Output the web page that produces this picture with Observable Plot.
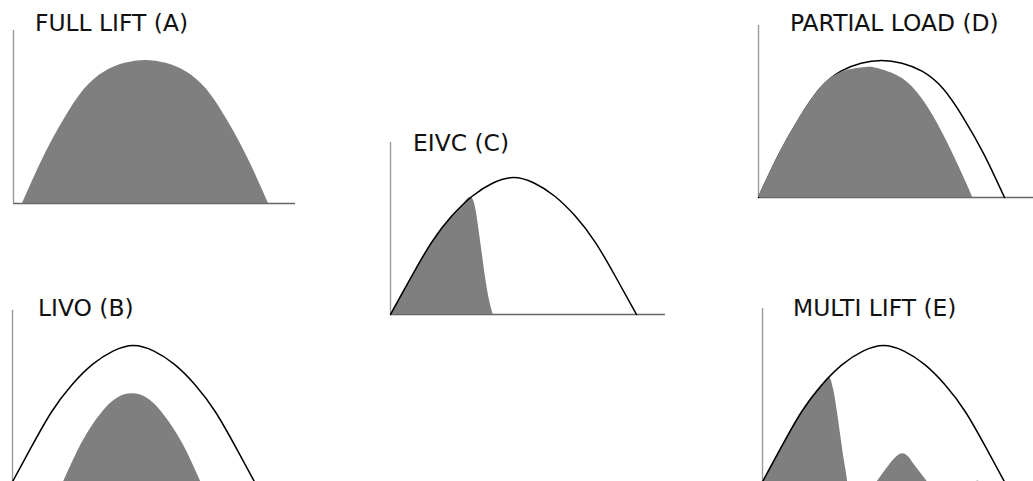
<!DOCTYPE html>
<html><head><meta charset="utf-8">
<script src="https://cdn.jsdelivr.net/npm/d3@7"></script>
<script src="https://cdn.jsdelivr.net/npm/@observablehq/plot@0.6"></script>
<style>
html,body{margin:0;padding:0;background:#fff;}
#stage{position:relative;width:1033px;height:481px;overflow:hidden;background:#fff;}
.panel{position:absolute;}
.title{position:absolute;font-family:"DejaVu Sans",sans-serif;font-size:23.4px;color:#111;white-space:nowrap;line-height:1;}
</style></head><body><div id="stage"></div>
<script>
// ---- data (crank angle in degrees, valve lift in mm) ----
const panelTitles = ["FULL LIFT (A)", "LIVO (B)", "EIVC (C)", "PARTIAL LOAD (D)", "MULTI LIFT (E)"];

const refAngles   = [0, 20, 40, 60, 80, 100, 120, 140, 160, 180, 200, 220, 240];
const fullLiftA   = [0, 3.15, 5.8, 7.95, 9.2, 9.8, 10, 9.8, 9.2, 7.95, 5.8, 3.15, 0];
const referenceLift = [0, 2.7, 5.25, 7.2, 8.65, 9.6, 10, 9.6, 8.65, 7.2, 5.25, 2.7, 0];

const livoAngles  = [50.2, 65.1, 78, 91, 104.1, 118.7, 133.4, 146.3, 159.3, 172.4, 187.2];
const livoLift    = [0, 2.38, 4.05, 5.36, 6.24, 6.55, 6.24, 5.36, 4.05, 2.38, 0];

const eivcAngles  = [0, 20, 40, 60, 70, 78, 81, 84, 86, 89.5, 92.7, 96, 100.2];
const eivcLift    = [0, 2.7, 5.25, 7.2, 7.95, 8.56, 8.32, 7.37, 6.35, 4.45, 2.7, 1.24, 0];

const partialAngles = [0, 20, 40, 60, 80, 100, 110, 120, 140, 160, 180, 200, 209];
const partialLift   = [0, 3.15, 5.8, 7.95, 9.1, 9.45, 9.5, 9.33, 8.7, 7.17, 4.66, 1.54, 0];

const multiAngles1 = [0, 20, 40, 60, 67.3, 71.5, 74.8, 78, 81.3, 84.6, 85.5];
const multiLift1   = [0, 2.7, 5.25, 7.2, 7.7, 6.8, 5.36, 3.7, 2.0, 0.5, 0];
const multiAngles2 = [111, 114, 120, 126.8, 133, 139, 145, 149.4, 154.4, 162.6, 165.5];
const multiLift2   = [0, 0.29, 0.9, 1.55, 2.05, 2.26, 2.0, 1.55, 1.07, 0.29, 0];
const multiAngles3 = [207, 212, 217];
const multiLift3   = [0, 0.32, 0];

// ---- styling / layout ----
const FILL = "#7f7f7f";
const AXIS = "#9a9a9a";
const BASE = "#666";
const KX = 1.025; // px per degree
const layout = [
  {startX: 22,  baseY: 203, ky: 14.3, axisX: 13,  axisTop: 30,  baseEnd: 295,  titleX: 35,  titleBase: 32},
  {startX: 10,  baseY: 485, ky: 14.0, axisX: 12,  axisTop: 310, baseEnd: 300,  titleX: 38,  titleBase: 317},
  {startX: 390, baseY: 314, ky: 13.7, axisX: 390, axisTop: 142, baseEnd: 665,  titleX: 413, titleBase: 152},
  {startX: 758, baseY: 197, ky: 13.7, axisX: 758, axisTop: 25,  baseEnd: 1033, titleX: 790, titleBase: 32},
  {startX: 760, baseY: 485, ky: 14.0, axisX: 762, axisTop: 308, baseEnd: 1033, titleX: 793, titleBase: 317}
];

const outline = (ang, lift) => Plot.line(lift, {x: ang, y: lift, stroke: "#000", strokeWidth: 1.5, curve: "natural"});
const area = (ang, lift, curve = "natural") => Plot.areaY(lift, {x: ang, y: lift, fill: FILL, curve});

const panelMarks = [
  [area(refAngles, fullLiftA)],
  [area(livoAngles, livoLift), outline(refAngles, referenceLift)],
  [area(eivcAngles, eivcLift, "monotone-x"), outline(refAngles, referenceLift)],
  [outline(refAngles, fullLiftA), area(partialAngles, partialLift)],
  [area(multiAngles1, multiLift1, "monotone-x"), area(multiAngles2, multiLift2, "monotone-x"), area(multiAngles3, multiLift3, "monotone-x"), outline(refAngles, referenceLift)]
];

const stage = document.getElementById("stage");
layout.forEach((L, i) => {
  const left = L.axisX - 6, top = L.axisTop - 4;
  const w = Math.min(L.baseEnd + 4, 1040) - left;
  const h = L.baseY + 6 - top;
  const xLo = (left - L.startX) / KX, xHi = (left + w - L.startX) / KX;
  const yLo = (L.baseY - (top + h)) / L.ky, yHi = (L.baseY - top) / L.ky;
  const axisA = (L.axisX - L.startX) / KX;
  const endA = (L.baseEnd - L.startX) / KX;
  const chart = Plot.plot({
    width: w, height: h, margin: 0,
    style: {background: "transparent", overflow: "visible"},
    x: {domain: [xLo, xHi], range: [0, w], axis: null},
    y: {domain: [yLo, yHi], range: [h, 0], axis: null},
    marks: [
      Plot.ruleY([0], {x1: axisA, x2: endA, stroke: BASE, strokeWidth: 1.6}),
      Plot.ruleX([axisA], {y1: 0, y2: yHi - 4 / L.ky, stroke: AXIS, strokeWidth: 1.4}),
      ...panelMarks[i]
    ]
  });
  chart.classList.add("panel");
  chart.style.left = left + "px";
  chart.style.top = top + "px";
  stage.appendChild(chart);

  const t = document.createElement("div");
  t.className = "title";
  t.textContent = panelTitles[i];
  t.style.left = L.titleX + "px";
  t.style.top = (L.titleBase - 19.8) + "px";
  stage.appendChild(t);
});
</script></body></html>
